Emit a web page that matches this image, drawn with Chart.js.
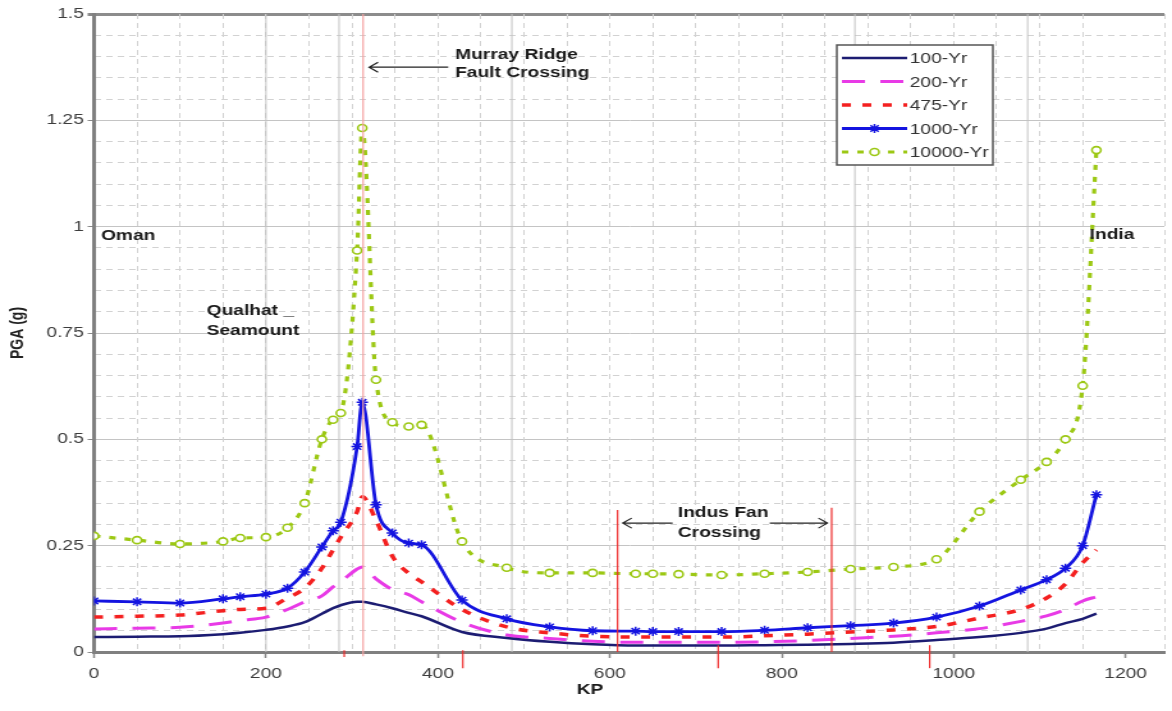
<!DOCTYPE html>
<html>
<head>
<meta charset="utf-8">
<script src="https://cdn.jsdelivr.net/npm/chart.js@4.4.0/dist/chart.umd.min.js"></script>
<style>
html,body{margin:0;padding:0;background:#fff;overflow:hidden;}
/* the reference is stretched sideways, so draw narrower and widen it */
#wrap{width:916px;height:711px;transform:scaleX(1.2795);transform-origin:0 0;}
</style>
</head>
<body>
<div id="wrap"><canvas id="myChart"></canvas></div>
<script>
var kp=[0,50,100,150,170,200,225,245,265,278,287,306,312,328,347,366,381,428,480,530,580,630,650,680,730,780,830,880,930,980,1030,1078,1108,1130,1150,1166];

var yr100=[.035,.036,.037,.042,.045,.052,.06,.07,.09,.103,.11,.118,.118,.112,.103,.092,.084,.047,.033,.024,.018,.015,.015,.015,.015,.016,.017,.019,.022,.028,.035,.045,.055,.068,.078,.09];
var yr200=[.054,.056,.058,.068,.074,.082,.1,.118,.132,.153,.165,.195,.2,.172,.147,.135,.118,.07,.04,.032,.025,.023,.023,.023,.023,.024,.027,.032,.037,.045,.055,.072,.085,.1,.12,.13];
var yr475=[.082,.084,.087,.097,.1,.103,.127,.15,.197,.24,.27,.33,.365,.31,.225,.185,.165,.1,.059,.045,.037,.035,.035,.035,.035,.038,.042,.047,.052,.06,.08,.1,.127,.16,.21,.24];
var yr1000=[.12,.118,.115,.125,.13,.136,.15,.188,.247,.285,.305,.483,.587,.346,.28,.256,.252,.122,.078,.059,.05,.049,.048,.048,.048,.051,.057,.062,.068,.082,.108,.146,.17,.197,.25,.37];
var yr10000=[.273,.263,.254,.26,.268,.27,.292,.35,.50,.546,.562,.944,1.232,.64,.54,.53,.534,.26,.198,.186,.186,.184,.184,.183,.181,.184,.188,.195,.20,.218,.33,.405,.447,.50,.626,1.18];

var seriesNames=['100-Yr','200-Yr','475-Yr','1000-Yr','10000-Yr'];

// text notes placed in data units (KP, PGA)
var notes=[
  ['Murray Ridge',420,1.394],
  ['Fault Crossing',420,1.352],
  ['Oman',8,0.969],
  ['Qualhat _',131,0.792],
  ['Seamount',131,0.745],
  ['India',1158,0.971],
  ['Indus Fan',679,0.317],
  ['Crossing',679,0.270]
];
// arrows: tail KP, tip KP, PGA
var arrows=[[412,320,1.375],[673,615,0.303],[786,853,0.303]];
// red markers: KP, top PGA, bottom PGA
var redLines=[[313,1.5,-0.01],[609,0.334,0],[858,0.339,0],[291,0.004,-0.012],[429,0.004,-0.038],[726,0.016,-0.038],[972,0.016,-0.038]];
var grayLines=[200,285,486,885,1086];

function pts(arr){return kp.map(function(k,i){return {x:k,y:arr[i]};});}

function isMajor(v){var q=v/0.25;return Math.abs(q-Math.round(q))<1e-6;}

var notesPlugin={
  id:'notes',
  beforeDatasetsDraw:function(chart){
    var c=chart.ctx,xs=chart.scales.x,ys=chart.scales.y;
    c.save();
    c.strokeStyle='#c2c2c2';c.lineWidth=1;
    grayLines.forEach(function(k){
      var x=xs.getPixelForValue(k);
      c.beginPath();c.moveTo(x,ys.getPixelForValue(1.5));c.lineTo(x,ys.getPixelForValue(0));c.stroke();
    });
    c.restore();
  },
  afterDraw:function(chart){
    var c=chart.ctx,xs=chart.scales.x,ys=chart.scales.y;
    c.save();
    redLines.forEach(function(r,i){
      var x=xs.getPixelForValue(r[0]);
      c.strokeStyle=i==0?'#f4a3a3':'#ee2a2a';
      c.lineWidth=1.2;
      c.beginPath();c.moveTo(x,ys.getPixelForValue(r[1]));c.lineTo(x,ys.getPixelForValue(r[2]));c.stroke();
    });
    c.strokeStyle='#222';c.lineWidth=1.2;
    arrows.forEach(function(a){
      var x0=xs.getPixelForValue(a[0]),x1=xs.getPixelForValue(a[1]),y=ys.getPixelForValue(a[2]);
      var d=x1>x0?-1:1;
      c.beginPath();c.moveTo(x0,y);c.lineTo(x1,y);
      c.moveTo(x1+d*7,y-5);c.lineTo(x1,y);c.lineTo(x1+d*7,y+5);
      c.stroke();
    });
    c.fillStyle='#1a1a1a';
    c.font='bold 15px "Liberation Sans", Arial';
    c.textBaseline='alphabetic';
    notes.forEach(function(n){
      c.fillText(n[0],xs.getPixelForValue(n[1]),ys.getPixelForValue(n[2]));
    });
    // x axis title
    c.textAlign='center';c.textBaseline='middle';
    c.fillText('KP',xs.getPixelForValue(577),690);

    // legend box
    c.textAlign='left';
    c.fillStyle='#fff';c.fillRect(654,45,122,120);
    c.strokeStyle='#555';c.lineWidth=1.5;c.strokeRect(654,45,122,120);
    chart.data.datasets.forEach(function(ds,i){
      var y=58+i*23.5;
      c.save();
      c.strokeStyle=ds.borderColor;c.lineWidth=ds.borderWidth;c.setLineDash(ds.borderDash||[]);
      c.beginPath();c.moveTo(658,y);c.lineTo(709,y);c.stroke();
      c.restore();
      if(ds.pointRadius>0){
        c.save();
        c.strokeStyle=ds.pointBorderColor;c.fillStyle=ds.pointBackgroundColor;c.lineWidth=ds.pointBorderWidth;
        Chart.helpers.drawPoint(c,{pointStyle:ds.pointStyle,radius:ds.pointRadius,borderWidth:ds.pointBorderWidth,rotation:0},683.5,y);
        c.restore();
      }
      c.fillStyle='#333';c.font='15px "Liberation Sans", Arial';c.textBaseline='middle';
      c.fillText(ds.label,711,y+1);
    });
    c.restore();
  }
};

Chart.defaults.font.family='"Liberation Sans", Arial, sans-serif';

var ctx=document.querySelector("#myChart").getContext("2d");
var myChart=new Chart(ctx,{
  type:'line',
  data:{
    datasets:[
      {label:seriesNames[0],data:pts(yr100),borderColor:'#1c1c72',borderWidth:2.5,pointRadius:0,xAxisID:'x',yAxisID:'y'},
      {label:seriesNames[1],data:pts(yr200),borderColor:'#e83ae6',borderWidth:3,borderDash:[18,12],pointRadius:0,xAxisID:'x',yAxisID:'y'},
      {label:seriesNames[2],data:pts(yr475),borderColor:'#f42020',borderWidth:3.5,borderDash:[7,9],pointRadius:0,xAxisID:'x',yAxisID:'y'},
      {label:seriesNames[3],data:pts(yr1000),borderColor:'#1414e0',borderWidth:2.8,pointStyle:'star',pointRadius:4.5,pointBorderWidth:1.5,pointBorderColor:'#1414e0',pointBackgroundColor:'#1414e0',xAxisID:'x',yAxisID:'y'},
      {label:seriesNames[4],data:pts(yr10000),borderColor:'#9cc814',borderWidth:3.2,borderDash:[5,7],pointStyle:'circle',pointRadius:3.5,pointBorderWidth:1.6,pointBorderColor:'#9cc814',pointBackgroundColor:'#ffffff',xAxisID:'x',yAxisID:'y'}
    ]
  },
  options:{
    responsive:true,
    maintainAspectRatio:false,
    animation:false,
    cubicInterpolationMode:'monotone',
    layout:{padding:{top:14,right:0,bottom:0,left:0}},
    plugins:{legend:{display:false},tooltip:{enabled:false}},
    scales:{
      x:{
        type:'linear',min:0,max:1245,position:'bottom',
        ticks:{stepSize:200,includeBounds:false,color:'#3c3c3c',font:{size:15},padding:7,callback:function(v){return String(v);}},
        grid:{drawOnChartArea:false,tickLength:6,tickColor:'#888',tickWidth:1.5},
        border:{color:'#808080',width:3},
        afterFit:function(s){s.height=59;}
      },
      y:{
        type:'linear',min:0,max:1.5,position:'left',
        ticks:{stepSize:0.25,color:'#3c3c3c',font:{size:15},padding:3,callback:function(v){return String(+v.toFixed(2));}},
        grid:{
          color:function(c){return c.tick&&c.tick.value==1.5?'#8c8c8c':'#c4c4c4';},
          lineWidth:function(c){return c.tick&&c.tick.value==1.5?3:1;},
          tickLength:5,tickColor:'#888'
        },
        border:{color:'#808080',width:3},
        title:{display:true,text:'PGA (g)',color:'#222',font:{size:14,weight:'bold'},padding:{top:6}},
        afterFit:function(s){s.width=73.5;}
      },
      xMinor:{
        type:'linear',min:0,max:1245,position:'bottom',
        ticks:{display:false,stepSize:50},
        grid:{color:'#d2d2d2',drawTicks:false,lineWidth:1},
        border:{display:false,dash:[5,4]},
        afterFit:function(s){s.height=0;}
      },
      yMinor:{
        type:'linear',min:0,max:1.5,position:'left',
        ticks:{display:false,stepSize:0.05},
        grid:{color:function(c){return c.tick&&isMajor(c.tick.value)?'rgba(0,0,0,0)':'#d2d2d2';},drawTicks:false,lineWidth:1},
        border:{display:false,dash:[5,4]},
        afterFit:function(s){s.width=0;}
      }
    }
  },
  plugins:[notesPlugin]
});
</script>
</body>
</html>
